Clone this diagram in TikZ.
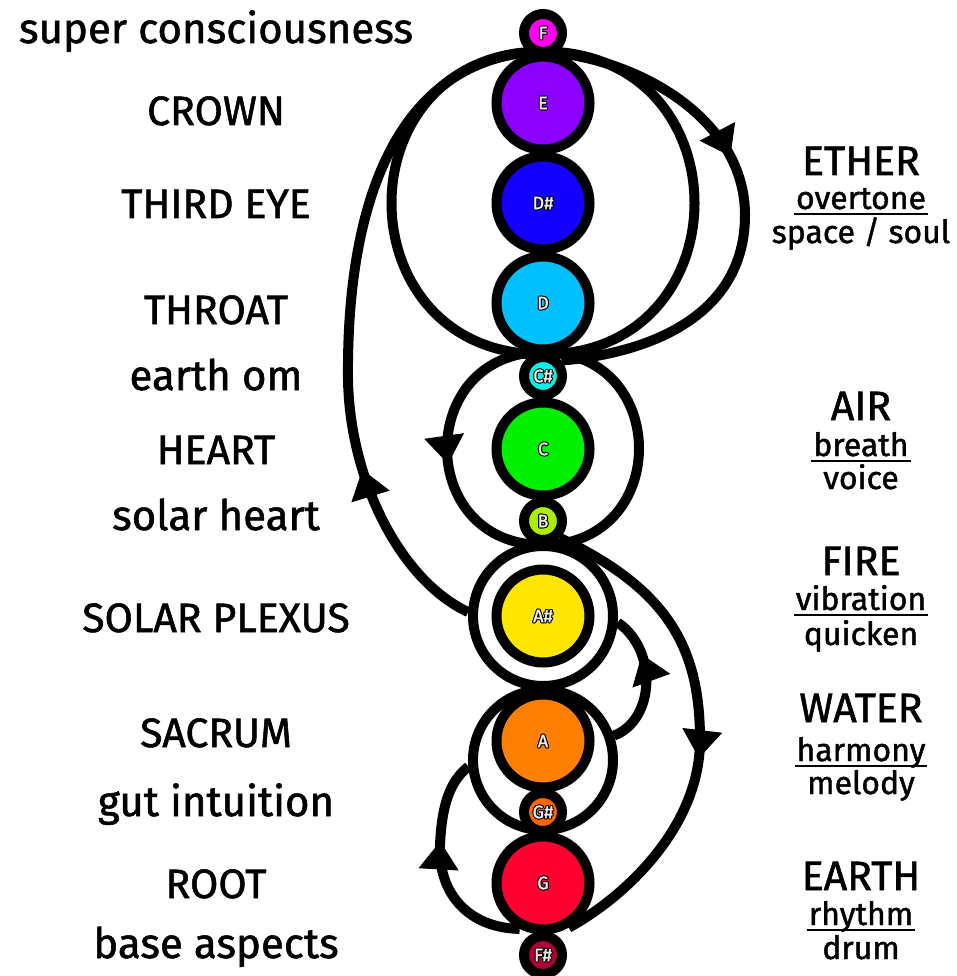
\documentclass[tikz,border=0pt]{standalone}
\usepackage{fontspec}
\setmainfont{Fira Sans}[FakeBold=1.3]
\newfontfamily\circfont{Fira Sans}[FakeBold=1.5]
\usetikzlibrary{arrows.meta,decorations.markings}
\pgfdeclarelayer{back}
\pgfdeclarelayer{links}
\pgfsetlayers{back,links,main}
\definecolor{cF}{HTML}{FF00F0}
\definecolor{cE}{HTML}{8C00FF}
\definecolor{cDs}{HTML}{1400FF}
\definecolor{cD}{HTML}{00C0FF}
\definecolor{cCs}{HTML}{00F5E6}
\definecolor{cC}{HTML}{00F000}
\definecolor{cB}{HTML}{AAEE00}
\definecolor{cAs}{HTML}{FFE600}
\definecolor{cA}{HTML}{FF8000}
\definecolor{cGs}{HTML}{FF6600}
\definecolor{cG}{HTML}{FF0030}
\definecolor{cFs}{HTML}{B00035}
\newcommand\oshift[3]{\rlap{\kern#1\raisebox{#2}{\color{black}#3}}}
\newcommand\olab[1]{\oshift{-1pt}{0pt}{#1}\oshift{1pt}{0pt}{#1}\oshift{0pt}{1pt}{#1}\oshift{0pt}{-1pt}{#1}\oshift{-0.75pt}{0.75pt}{#1}\oshift{0.75pt}{0.75pt}{#1}\oshift{-0.75pt}{-0.75pt}{#1}\oshift{0.75pt}{-0.75pt}{#1}{\color{white!92!black}#1}}
\newsavebox\ulbox
\newcommand\ulw[1]{\sbox\ulbox{#1}\rlap{\kern-2pt\rule[-6pt]{\dimexpr\wd\ulbox+4pt\relax}{2pt}}\usebox\ulbox}
\tikzset{
  chakra/.style={circle, draw=black, line width=10pt, inner sep=0pt,
     font=\circfont\fontsize{18}{18}\selectfont},
  smallc/.style={chakra, minimum size=38pt},
  bigc/.style={chakra, minimum size=93pt},
  ringc/.style={circle, draw=black, line width=10pt, inner sep=0pt, minimum size=140pt},
  flow/.style={line width=10pt},
  tipat/.style={postaction={decorate}, decoration={markings,
     mark=at position #1 with {\arrow{Triangle[length=28pt,width=40pt,line width=1pt]}}}},
  caplab/.style={anchor=base, inner sep=0pt, font=\fontsize{41}{41}\selectfont},
  lowlab/.style={anchor=base, inner sep=0pt, font=\fontsize{42}{42}\selectfont},
  sublab/.style={anchor=base, inner sep=0pt, font=\fontsize{32}{32}\selectfont},
}
\begin{document}
\begin{tikzpicture}[x=1pt,y=-1pt]
\begin{pgfonlayer}{back}
\fill[white] (0,0) rectangle (956,976);
\end{pgfonlayer}
\useasboundingbox (0,0) rectangle (956,976);

% rings
\node[ringc] (ringAs) at (543,616) {};
\node[ringc] (ringA) at (543,760) {};

% chakra circles
\node[smallc, fill=cF]  (F)  at (543,33)  {\olab{F}};
\node[bigc,   fill=cE]  (E)  at (543,103) {\olab{E}};
\node[bigc,   fill=cDs] (Ds) at (543,203) {\olab{D\#}};
\node[bigc,   fill=cD]  (D)  at (543,303) {\olab{D}};
\node[smallc, fill=cCs] (Cs) at (543,376) {\olab{C\#}};
\node[bigc,   fill=cC]  (C)  at (543,449) {\olab{C}};
\node[smallc, fill=cB]  (B)  at (543,521) {\olab{B}};
\node[bigc,   fill=cAs] (As) at (543,616) {\olab{A\#}};
\node[bigc,   fill=cA]  (A)  at (543,741) {\olab{A}};
\node[smallc, fill=cGs] (Gs) at (543,812) {\olab{G\#}};
\node[bigc,   fill=cG]  (G)  at (543,883) {\olab{G}};
\node[smallc, fill=cFs] (Fs) at (543,955) {\olab{F\#}};

% connectors
\begin{pgfonlayer}{links}
\draw[flow] (E.north) .. controls +(-202,0) and +(-202,0) .. (D.south);
\draw[flow] (E.north) .. controls +(202,0) and +(202,0) .. (D.south);
\draw[flow, tipat=0.41] (E.north) .. controls (640,58) and (745,120) .. (745,215)
   .. controls (745,310) and (660,352) .. (Cs.40);
\draw[flow, tipat=0.26] (ringAs.177) .. controls (400,580) and (350,480) .. (348,380)
   .. controls (346,180) and (410,55) .. (E.north);
\draw[flow, tipat=0.55] (Cs.north) .. controls +(-128,0) and +(-128,0) .. (B.south);
\draw[flow] (Cs.north) .. controls +(128,0) and +(128,0) .. (B.south);
\draw[flow, tipat=0.56] (B.-45) .. controls (670,590) and (700,650) .. (700,740)
   .. controls (700,830) and (620,900) .. (G.-60);
\draw[flow, tipat=0.70] (ringA.19) .. controls (655,720) and (658,650) .. (ringAs.-5);
\draw[flow, tipat=0.62] (G.243) .. controls (470,928) and (438,895) .. (440,845)
   .. controls (442,800) and (452,780) .. (ringA.185);
\end{pgfonlayer}

% left labels
\node[lowlab] (lsuper) at (216,43)  {super consciousness};
\node[caplab] (lcrown) at (216,125) {CROWN};
\node[caplab] (lthird) at (216,218) {THIRD EYE};
\node[caplab] (lthroat) at (216,324) {THROAT};
\node[lowlab] (learth) at (216,390) {earth om};
\node[caplab] (lheart) at (216,464) {HEART};
\node[lowlab] (lsolar) at (216,530) {solar heart};
\node[caplab] (lplexus) at (216,632) {SOLAR PLEXUS};
\node[caplab] (lsacrum) at (216,747) {SACRUM};
\node[lowlab] (lgut) at (216,816) {gut intuition};
\node[caplab] (lroot) at (216,898) {ROOT};
\node[lowlab] (lbase) at (216,958) {base aspects};

% right labels
\node[caplab] (rether) at (861,175) {ETHER};
\node[sublab] (rover) at (861,209) {\ulw{overtone}};
\node[sublab] (rspace) at (861,243) {space / soul};
\node[caplab] (rair) at (861,420) {AIR};
\node[sublab] (rbreath) at (861,456) {\ulw{breath}};
\node[sublab] (rvoice) at (861,489) {voice};
\node[caplab] (rfire) at (861,575) {FIRE};
\node[sublab] (rvib) at (861,610) {\ulw{vibration}};
\node[sublab] (rquick) at (861,645) {quicken};
\node[caplab] (rwater) at (861,722) {WATER};
\node[sublab] (rharm) at (861,761) {\ulw{harmony}};
\node[sublab] (rmel) at (861,794) {melody};
\node[caplab] (rearth) at (861,890) {EARTH};
\node[sublab] (rrhythm) at (861,925) {\ulw{rhythm}};
\node[sublab] (rdrum) at (861,959) {drum};
\end{tikzpicture}
\end{document}
